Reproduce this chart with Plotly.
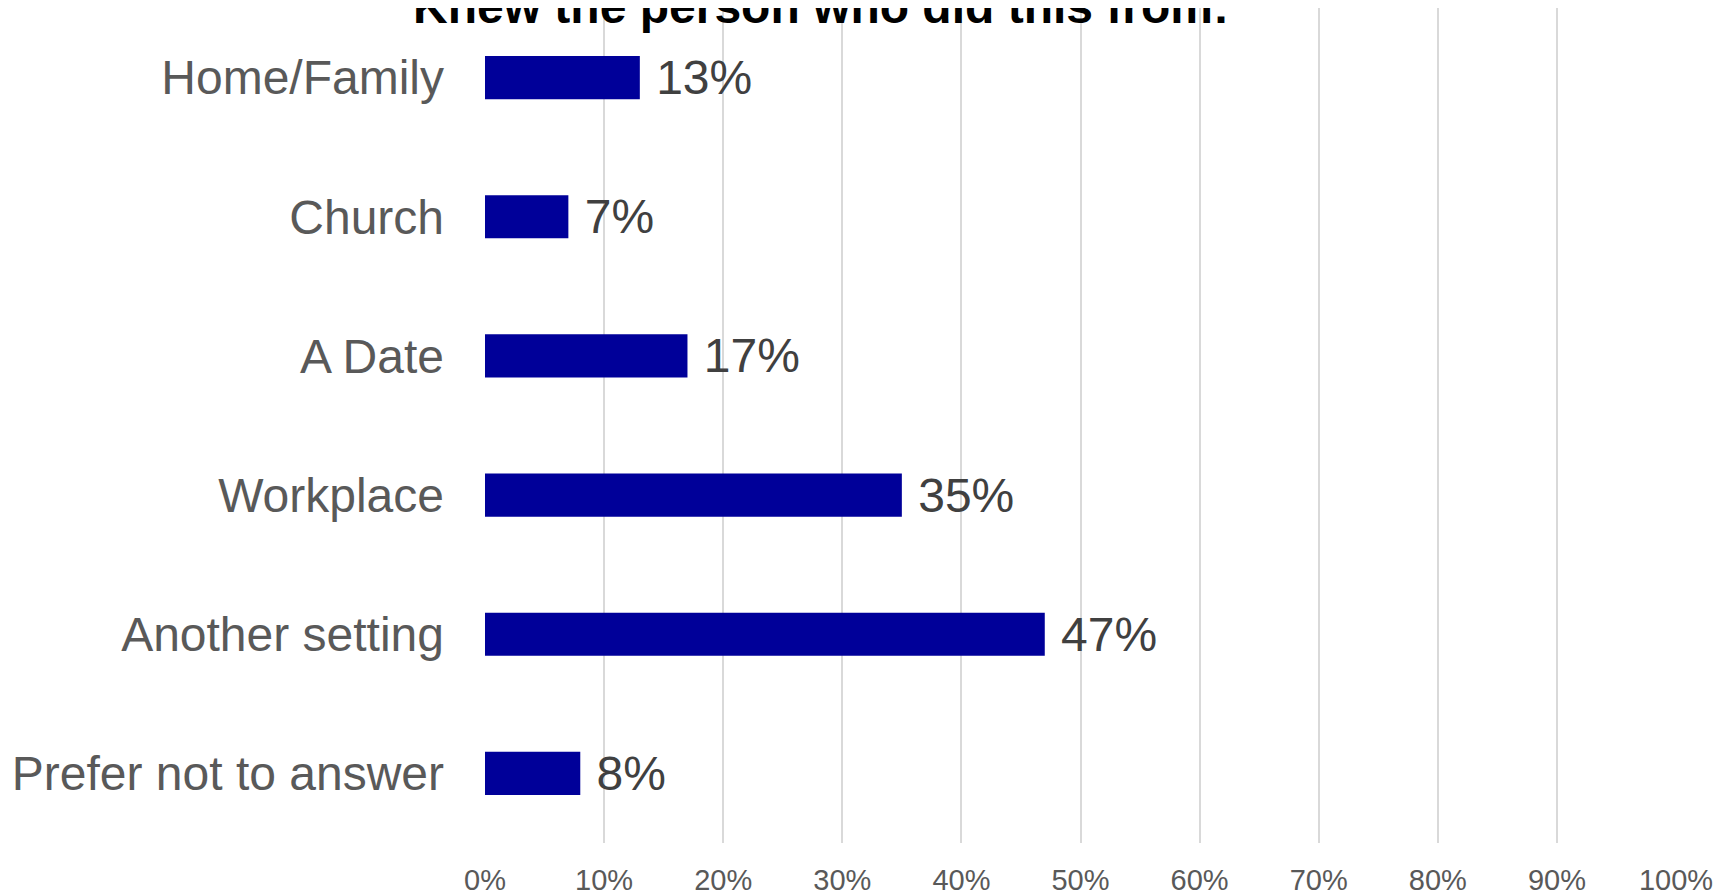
import plotly.graph_objects as go

categories = ["Home/Family", "Church", "A Date", "Workplace", "Another setting", "Prefer not to answer"]
values = [0.13, 0.07, 0.17, 0.35, 0.47, 0.08]
tick_vals = [0, 0.1, 0.2, 0.3, 0.4, 0.5, 0.6, 0.7, 0.8, 0.9, 1.0]
title_text = "Knew the person who did this from:"

fig = go.Figure(
    go.Bar(
        x=values,
        y=categories,
        orientation="h",
        marker=dict(color="#000099", line=dict(width=0)),
        width=0.31,
        text=["\u00a0" + f"{v*100:.0f}%" for v in values],
        textposition="outside",
        textfont=dict(family="Liberation Sans, Arial", size=48, color="#404040"),
        constraintext="none",
        cliponaxis=False,
    )
)

fig.update_layout(
    width=1734,
    height=895,
    margin=dict(l=477, r=66, t=0, b=60),
    paper_bgcolor="white",
    plot_bgcolor="white",
    showlegend=False,
    font=dict(family="Liberation Sans, Arial"),
    annotations=[
        dict(
            text="<b>" + title_text + "</b>",
            xref="paper", yref="paper",
            x=(813 - 477) / 1191, y=1.0,
            yshift=2,
            xanchor="center", yanchor="middle",
            showarrow=False,
            font=dict(family="Liberation Sans, Arial", size=48, color="black"),
        )
    ],
)

fig.update_xaxes(
    range=[0, 1],
    tickvals=tick_vals,
    tickformat=".0%",
    showgrid=True,
    gridcolor="#d9d9d9",
    gridwidth=1.5,
    zeroline=False,
    showline=False,
    ticks="",
    tickfont=dict(family="Liberation Sans, Arial", size=29, color="#595959"),
    ticklabelstandoff=17,
    automargin=False,
)

fig.update_yaxes(
    categoryorder="array",
    categoryarray=categories,
    range=[5.5, -0.5],
    showgrid=False,
    zeroline=False,
    showline=False,
    ticks="",
    tickfont=dict(family="Liberation Sans, Arial", size=48, color="#595959"),
    ticklabelstandoff=40,
    automargin=False,
)

fig.write_html("out.html")
